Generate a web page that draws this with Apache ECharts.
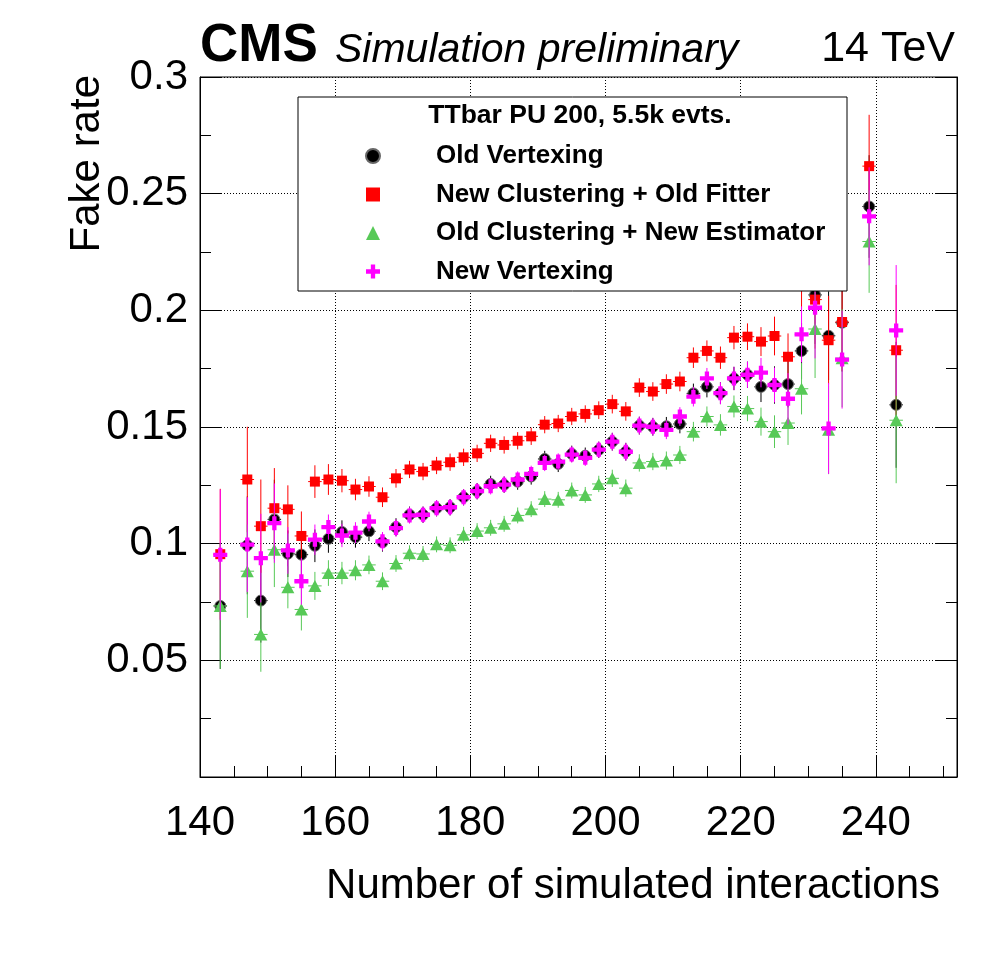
<!DOCTYPE html>
<html>
<head>
<meta charset="utf-8">
<script src="https://cdn.jsdelivr.net/npm/echarts@6/dist/echarts.min.js"></script>
<style>
html,body{margin:0;padding:0;background:#fff;}
#chart{width:996px;height:972px;}
</style>
</head>
<body>
<div id="chart"></div>
<script>
// ---- data ----
const nInteractions = [143,147,149,151,153,155,157,159,161,163,165,167,169,171,173,175,177,179,181,183,185,187,189,191,193,195,197,199,201,203,205,207,209,211,213,215,217,219,221,223,225,227,229,231,233,235,239,243];

const oldVertexing = [0.0733,0.0993,0.0756,0.1104,0.0957,0.0953,0.0991,0.1021,0.1050,0.1028,0.1053,0.1006,0.1071,0.1124,0.1124,0.1152,0.1156,0.1199,0.1225,0.1256,0.1253,0.1266,0.1288,0.1363,0.1342,0.1385,0.1377,0.1402,0.1437,0.1394,0.1506,0.1501,0.1503,0.1513,0.1644,0.1672,0.1645,0.1708,0.1724,0.1672,0.1680,0.1684,0.1826,0.2066,0.1891,0.1947,0.2445,0.1595];
const oldVertexingErr = [0.027,0.021,0.018,0.017,0.010,0.010,0.007,0.006,0.005,0.0045,0.0042,0.004,0.0038,0.0035,0.0035,0.0035,0.0035,0.0035,0.0035,0.0035,0.0035,0.0035,0.0035,0.0035,0.0035,0.0035,0.0035,0.0035,0.0038,0.0038,0.0038,0.0038,0.004,0.004,0.0042,0.0045,0.0047,0.005,0.0056,0.0065,0.008,0.010,0.012,0.021,0.019,0.021,0.022,0.027];

const newClustOldFitter = [0.0955,0.1275,0.1075,0.1152,0.1147,0.1033,0.1266,0.1275,0.1270,0.1232,0.1245,0.1199,0.1280,0.1318,0.1309,0.1335,0.1349,0.1370,0.1387,0.1430,0.1423,0.1441,0.1460,0.1510,0.1515,0.1545,0.1556,0.1572,0.1598,0.1567,0.1669,0.1652,0.1684,0.1695,0.1797,0.1826,0.1797,0.1883,0.1887,0.1866,0.1890,0.1801,0.2135,0.2046,0.1872,0.1950,0.2618,0.1829];
const newClustOldFitterErr = [0.028,0.0226,0.020,0.0172,0.0103,0.0105,0.007,0.0066,0.0050,0.0046,0.0044,0.0042,0.004,0.0037,0.0037,0.0037,0.0037,0.0037,0.0037,0.0037,0.0037,0.0037,0.0037,0.0037,0.0037,0.0037,0.0037,0.0038,0.004,0.004,0.004,0.004,0.0042,0.0042,0.0044,0.0045,0.0048,0.005,0.0057,0.0062,0.0083,0.010,0.013,0.021,0.019,0.021,0.022,0.028];

const oldClustNewEstimator = [0.0733,0.0882,0.0611,0.0974,0.0813,0.0718,0.0819,0.0874,0.0874,0.0886,0.0909,0.0839,0.0915,0.0959,0.0956,0.0997,0.0993,0.1038,0.1054,0.1068,0.1085,0.1121,0.1148,0.1191,0.1188,0.1228,0.1209,0.1256,0.1280,0.1238,0.1346,0.1352,0.1356,0.1380,0.1480,0.1545,0.1509,0.1588,0.1579,0.1523,0.1480,0.1517,0.1664,0.1920,0.1488,0.1795,0.2295,0.1529];
const oldClustNewEstimatorErr = [0.027,0.020,0.016,0.016,0.009,0.009,0.006,0.0055,0.0048,0.0043,0.004,0.0038,0.0036,0.0034,0.0034,0.0034,0.0034,0.0034,0.0034,0.0034,0.0034,0.0034,0.0034,0.0034,0.0034,0.0034,0.0034,0.0035,0.0037,0.0037,0.0037,0.0037,0.0039,0.0039,0.0042,0.0043,0.0046,0.0047,0.0054,0.006,0.007,0.0094,0.011,0.021,0.019,0.021,0.022,0.027];

const newVertexing = [0.0952,0.0996,0.0938,0.1088,0.0971,0.0839,0.1017,0.1071,0.1035,0.1047,0.1095,0.1010,0.1067,0.1121,0.1124,0.1152,0.1156,0.1199,0.1225,0.1246,0.1253,0.1275,0.1299,0.1346,0.1352,0.1382,0.1368,0.1403,0.1437,0.1394,0.1506,0.1501,0.1488,0.1545,0.1630,0.1708,0.1645,0.1708,0.1724,0.1733,0.1680,0.1621,0.1897,0.2011,0.1494,0.1789,0.2403,0.1914];
const newVertexingErr = [0.028,0.0203,0.019,0.017,0.010,0.010,0.0065,0.0054,0.005,0.0045,0.0042,0.004,0.0038,0.0035,0.0035,0.0035,0.0035,0.0035,0.0035,0.0035,0.0035,0.0035,0.0035,0.0035,0.0035,0.0035,0.0035,0.0035,0.0038,0.0038,0.0038,0.0038,0.004,0.004,0.0042,0.0045,0.0047,0.005,0.0056,0.0063,0.0075,0.011,0.012,0.0217,0.0195,0.021,0.021,0.028];

const seriesNames = ['Old Vertexing','New Clustering + Old Fitter','Old Clustering + New Estimator','New Vertexing'];
const xTicks = [140,160,180,200,220,240];
const yTicks = [0.05,0.1,0.15,0.2,0.25,0.3];
const legendTitle = 'TTbar PU 200, 5.5k evts.';
const xTitle = 'Number of simulated interactions';
const yTitle = 'Fake rate';

// ---- chart ----
const FONT = "'Liberation Sans', Arial, Helvetica, sans-serif";
const chart = echarts.init(document.getElementById('chart'), null, {renderer:'canvas'});

function triples(ys, es){ return nInteractions.map((x,i)=>[x, ys[i], es[i]]); }
function pairs(ys){ return nInteractions.map((x,i)=>[x, ys[i]]); }

function errRender(color){
  return function(params, api){
    const x = api.value(0), y = api.value(1), e = api.value(2);
    const c = api.coord([x, y]);
    const t = api.coord([x, y + e]);
    const b = api.coord([x, y - e]);
    const l = api.coord([x - 1, y]);
    const r = api.coord([x + 1, y]);
    return {type:'group', children:[
      {type:'line', shape:{x1:c[0], y1:t[1], x2:c[0], y2:b[1]}, style:{stroke:color, lineWidth:1}},
      {type:'line', shape:{x1:l[0], y1:c[1], x2:r[0], y2:c[1]}, style:{stroke:color, lineWidth:1}}
    ]};
  };
}

const colors = ['#000000','#ff0000','#57c957','#ff00ff'];
const crossPath = 'path://M4.5,0 L8.5,0 L8.5,4.5 L13,4.5 L13,8.5 L8.5,8.5 L8.5,13 L4.5,13 L4.5,8.5 L0,8.5 L0,4.5 L4.5,4.5 Z';
const symbols = ['circle','rect','triangle',crossPath];
const symbolSizes = [11,10,[13,12],14];
const values = [oldVertexing,newClustOldFitter,oldClustNewEstimator,newVertexing];
const errs = [oldVertexingErr,newClustOldFitterErr,oldClustNewEstimatorErr,newVertexingErr];

const series = [];
for (let k=0;k<4;k++){
  series.push({
    type:'custom', name: seriesNames[k]+' err', xAxisIndex:0, yAxisIndex:0,
    data: triples(values[k], errs[k]), renderItem: errRender(colors[k]),
    z: 2+2*k, silent:true, clip:true
  });
  series.push({
    type:'scatter', name: seriesNames[k], xAxisIndex:0, yAxisIndex:0,
    data: pairs(values[k]), symbol: symbols[k], symbolSize: symbolSizes[k],
    itemStyle: k===0 ? {color:'#000', borderColor:'#666', borderWidth:1, opacity:1} : {color:colors[k], opacity:1},
    z: 3+2*k, silent:true
  });
}

const axisLineStyle = {color:'#000', width:1};
const option = {
  animation:false,
  backgroundColor:'#fff',
  grid:{left:200, top:77, width:757, height:700, show:true, borderColor:'#000', borderWidth:1, backgroundColor:'transparent', containLabel:false},
  xAxis:[
    {type:'value', min:140, max:252, interval:20, position:'bottom',
     axisLine:{show:true, lineStyle:axisLineStyle},
     axisTick:{show:true, inside:true, length:22, lineStyle:axisLineStyle},
     axisLabel:{show:true, margin:25, fontSize:42, fontFamily:FONT, color:'#000',
       formatter:(v)=> xTicks.indexOf(Math.round(v))>=0 && Math.abs(v-Math.round(v))<1e-6 ? String(Math.round(v)) : ''},
     splitLine:{show:true, lineStyle:{color:'#000', width:1, type:[1,2]}}},
    {type:'value', min:140, max:252, interval:5, position:'bottom',
     axisLine:{show:false},
     axisTick:{show:true, inside:true, length:11, lineStyle:axisLineStyle},
     axisLabel:{show:false}, splitLine:{show:false}}
  ],
  yAxis:[
    {type:'value', min:0, max:0.3, interval:0.05, position:'left',
     axisLine:{show:true, lineStyle:axisLineStyle},
     axisTick:{show:true, inside:true, length:22, lineStyle:axisLineStyle},
     minorTick:{show:true, splitNumber:2, length:11, lineStyle:axisLineStyle},
     axisLabel:{show:true, margin:12, fontSize:42, fontFamily:FONT, color:'#000',
       formatter:(v)=>{ const r = Math.round(v*100)/100; return yTicks.indexOf(r)>=0 ? String(r) : ''; }},
     splitLine:{show:true, lineStyle:{color:'#000', width:1, type:[1,2]}}},
    {type:'value', min:0, max:0.3, interval:0.05, position:'right',
     axisLine:{show:true, lineStyle:axisLineStyle},
     axisTick:{show:true, inside:true, length:22, lineStyle:axisLineStyle},
     minorTick:{show:true, splitNumber:2, length:11, lineStyle:axisLineStyle},
     axisLabel:{show:false}, splitLine:{show:false}}
  ],
  legend:{
    orient:'vertical', left:360, top:136, itemWidth:14, itemHeight:14, itemGap:8.5,
    selectedMode:false, z:21,
    data: seriesNames,
    textStyle:{fontFamily:FONT, fontWeight:'bold', fontSize:26, color:'#000', lineHeight:30, padding:[0,0,0,51]}
  },
  graphic:[
    {type:'rect', z:20, shape:{x:298, y:97, width:549, height:194}, style:{fill:'#fff', stroke:'#000', lineWidth:1}},
    {type:'text', z:21, x:580, y:116, style:{text:legendTitle, font:"bold 26.5px "+FONT, fill:'#000', align:'center', verticalAlign:'middle'}},
    {type:'text', z:21, x:200, y:73, style:{text:'CMS', font:"bold 53px "+FONT, fill:'#000', align:'left', verticalAlign:'bottom'}},
    {type:'text', z:21, x:335, y:71, style:{text:'Simulation preliminary', font:"italic 41px "+FONT, fill:'#000', align:'left', verticalAlign:'bottom'}},
    {type:'text', z:21, x:955, y:71, style:{text:'14 TeV', font:"43px "+FONT, fill:'#000', align:'right', verticalAlign:'bottom'}},
    {type:'text', z:21, x:940, y:886, style:{text:xTitle, font:"42px "+FONT, fill:'#000', align:'right', verticalAlign:'middle'}},
    {type:'text', z:21, x:87, y:75, rotation:Math.PI/2, style:{text:yTitle, font:"42px "+FONT, fill:'#000', align:'right', verticalAlign:'middle'}}
  ],
  series: series
};
chart.setOption(option);
</script>
</body>
</html>
